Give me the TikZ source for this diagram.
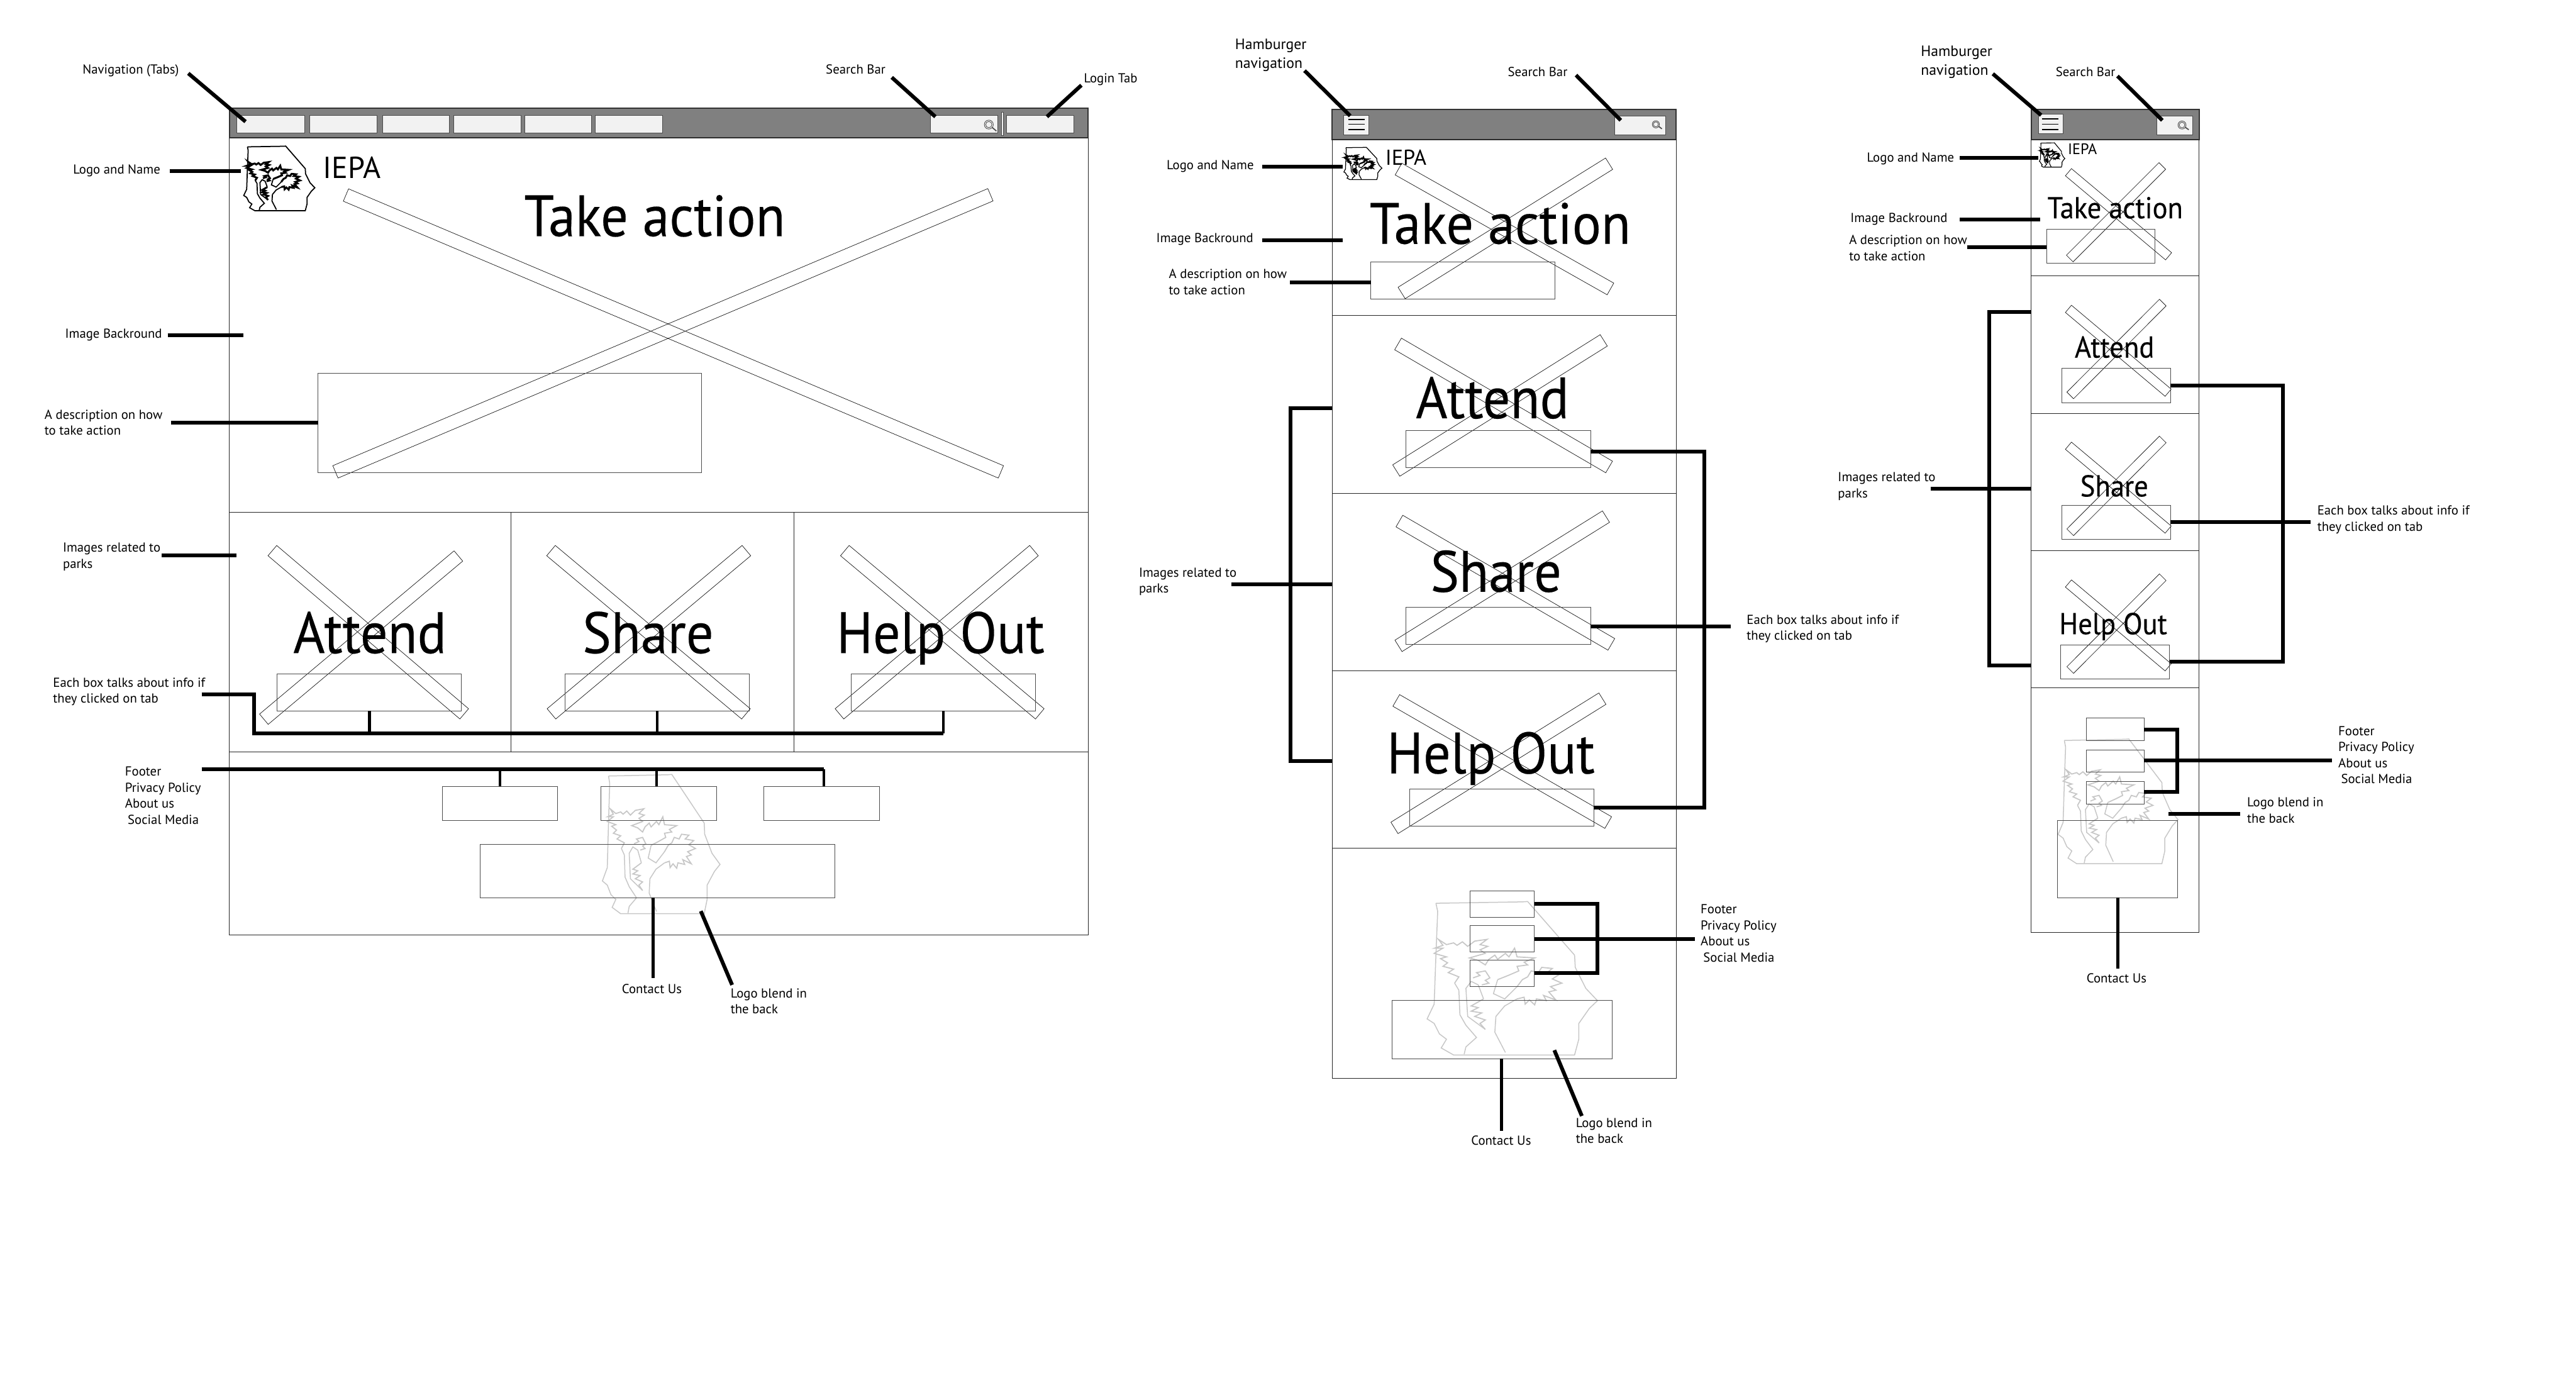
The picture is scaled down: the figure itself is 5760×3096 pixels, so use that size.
\documentclass[tikz,border=0pt]{standalone}
\usepackage{fontspec}
\setmainfont{PT Sans}
\newfontfamily\bigface[FakeStretch=0.93,FakeBold=0.25]{PT Sans}
\usetikzlibrary{calc}

\newcommand{\rectnode}[6][secbox]{\node[#1, minimum width={(#5-#3)*0.01cm}, minimum height={(#6-#4)*0.01cm}] (#2) at ({(#3+#5)/2},{(#4+#6)/2}) {};}
\newcommand{\magglass}[5]{\draw[black!70, line width=0.35pt] (#1,#2) circle (#3);
    \draw[black!70, line width=0.35pt] (#1,#2) circle ({#3*0.7});
    \draw[black!70, line width=0.7pt] ($(#1,#2)!#3*0.01cm!(#4,#5)$) -- (#4,#5);}
\newcommand{\iepalogo}[7]{\begin{scope}[shift={(#1,#2)}, xscale=#3/483, yscale=#4/443, shift={(-40,-45)}, draw=#5, line join=miter]
    \draw[line width=#6] plot coordinates {(65,52)(310,48)(325,47)(458,200)(460,235)(490,295)(523,330)(500,352)(470,395)(470,440)(458,485)(115,485)(80,465)(95,440)(75,425)(60,395)(40,382)(60,340)(65,200)(70,75)(65,52)};
    \draw[line width=#6] plot coordinates {(145,483)(150,462)(180,435)(150,400)(133,370)(130,300)(118,280)};
    \draw[line width=#6] plot coordinates {(262,478)(232,420)(235,375)(260,345)(295,325)};
    \draw[line width=#6] plot coordinates {(200,325)(185,285)(165,275)(150,295)(155,375)(205,412)};
    \draw[line width=#6] plot coordinates {(240,270)(228,310)(260,325)(295,290)};
    \draw[line width=#7] plot coordinates {(118,280)(130,262)(100,250)(115,240)(85,232)(98,222)(78,210)(95,205)(60,195)(85,180)(62,180)(85,172)(72,155)(95,170)(115,165)(125,172)(140,162)(155,175)(175,160)(210,155)(190,170)(212,175)(190,185)(205,195)(160,208)(185,215)(205,228)(215,212)(232,200)(240,212)(262,195)(272,205)(288,180)(295,205)(345,208)(315,220)(325,228)(295,232)(300,245)(270,258)(240,270)};
    \draw[line width=#7] plot coordinates {(295,290)(310,270)(325,262)(335,245)(355,250)(365,235)(395,238)(380,250)(415,255)(395,268)(422,280)(390,290)(405,300)(385,305)(405,328)(370,315)(378,330)(350,325)(345,342)(330,328)(318,340)(315,320)(295,325)};
    \draw[line width=#7] plot coordinates {(170,265)(190,258)(180,250)(205,245)(218,265)(205,272)(215,280)(195,285)};
    \draw[line width=#7] plot coordinates {(200,325)(165,345)(185,350)(165,360)(195,365)(175,375)(205,385)(190,395)(205,412)};
    \end{scope}}

\begin{document}
\begin{tikzpicture}[x=0.01cm, y=-0.01cm,
    secbox/.style={rectangle, draw=black!85, line width=0.4pt, inner sep=0pt, outer sep=0pt},
    descbox/.style={secbox, draw=black!70},
    headbar/.style={secbox, fill=black!50, draw=black!80, line width=0.8pt},
    tabbox/.style={secbox, fill=black!5, draw=black!70},
    xbar/.style={draw=black, line width=0.25pt},
    callout/.style={black, line width=2.4pt},
    stem/.style={black, line width=1.8pt},
    note/.style={font=\fontsize{8.3}{10.2}\selectfont, inner sep=0pt, anchor=base west, align=left, yshift=-0.015cm},
    hambnote/.style={note, font=\fontsize{9.5}{12}\selectfont},
    bigtext/.style={font=\bigface\fontsize{37}{40}\selectfont, inner sep=0pt, anchor=base, yshift=-0.04cm},
    midtext/.style={font=\bigface\fontsize{19.2}{22}\selectfont, inner sep=0pt, anchor=base, yshift=-0.03cm},
    brand/.style={inner sep=0pt, anchor=base west}]
    \useasboundingbox (0,0) rectangle (5760,3096);

    % placeholder crosses: both ends of the centre line and half width
    \foreach \xa/\ya/\xb/\yb/\bw in {
        773.5/436/2238/1055/0.15cm, 2214.6/435.5/750/1055/0.15cm,
        609/1231/1038/1596/0.15cm, 1025/1243/590/1608/0.15cm,
        1232/1231/1668/1596/0.15cm, 1669/1231/1233/1596/0.15cm,
        1889/1231/2325/1596/0.15cm, 2312/1231/1877/1596/0.15cm,
        3127/378/3601/646/0.15cm, 3598/366/3134/655/0.15cm,
        3126/769/3598/1044/0.15cm, 3586/761/3122/1052/0.15cm,
        3129/1165/3603/1440.6/0.15cm, 3591/1155/3127/1444/0.15cm,
        3122/1566/3596/1839/0.15cm, 3583/1562/3118/1851/0.15cm,
        4625/385/4849/573/0.105cm, 4835/371/4628/578/0.105cm,
        4625/690.5/4848/878/0.105cm, 4836/676.5/4629/884/0.105cm,
        4625/996.5/4848/1184/0.105cm, 4836/982.5/4629/1190/0.105cm,
        4625/1304.5/4848/1492/0.105cm, 4836/1290.5/4629/1498/0.105cm}{
        \draw[xbar] ($(\xa,\ya)!\bw!90:(\xb,\yb)$) -- ($(\xa,\ya)!\bw!-90:(\xb,\yb)$) -- ($(\xb,\yb)!\bw!90:(\xa,\ya)$) -- ($(\xb,\yb)!\bw!-90:(\xa,\ya)$) -- cycle;
    }

    \iepalogo{545}{326}{159}{146}{black}{0.7pt}{1.2pt}
    \iepalogo{1347}{1730}{263}{315}{black!22}{0.6pt}{0.7pt}
    \iepalogo{3005}{329}{85}{73}{black}{0.5pt}{0.9pt}
    \iepalogo{3191}{2014}{381}{347}{black!22}{0.6pt}{0.7pt}
    \iepalogo{4560}{319}{57}{55}{black}{0.45pt}{0.7pt}
    \iepalogo{4602}{1651}{268}{282}{black!22}{0.6pt}{0.7pt}

    \rectnode[headbar]{dHead}{513}{242}{2433}{308.5}
    \rectnode{dHero}{513}{308.5}{2433}{1146}
    \rectnode{dAttendSec}{513}{1146}{1143}{1681}
    \rectnode{dShareSec}{1143}{1146}{1776}{1681}
    \rectnode{dHelpSec}{1776}{1146}{2433}{1681}
    \rectnode{dFooterSec}{513}{1681}{2433}{2091}
    \foreach \i/\xa/\xb in {1/530/681,2/693/843,3/855/1005,4/1014/1165,5/1173/1323,6/1331/1481}{
        \rectnode[tabbox]{dTab\i}{\xa}{257.5}{\xb}{297}
    }
    \rectnode[tabbox]{dSearch}{2081}{257.5}{2231}{297}
    \rectnode[tabbox]{dDivider}{2239.5}{251}{2244}{303}
    \rectnode[tabbox]{dLogin}{2250}{257.5}{2400.5}{297}
    \magglass{2211}{278.5}{10}{2228}{293}
    \rectnode[descbox]{dDescBox}{711}{835}{1568}{1057}
    \rectnode[descbox]{dAttendBox}{620}{1507}{1032}{1589.5}
    \rectnode[descbox]{dShareBox}{1263}{1507}{1676}{1589.5}
    \rectnode[descbox]{dHelpBox}{1904}{1507}{2315}{1589.5}
    \rectnode[descbox]{dFoot1}{989}{1758}{1247}{1834}
    \rectnode[descbox]{dFoot2}{1344}{1758}{1602}{1834}
    \rectnode[descbox]{dFoot3}{1708}{1758}{1966}{1834}
    \rectnode[descbox]{dContactBox}{1073}{1888}{1867}{2007}

    \node[brand, font=\fontsize{19.3}{22}\selectfont] (dBrand) at (722,398) {IEPA};
    \node[bigtext] (dTakeText) at (1464,524) {Take action};
    \node[bigtext] (dAttendText) at (827,1456) {Attend};
    \node[bigtext] (dShareText) at (1449,1456) {Share};
    \node[bigtext] (dHelpText) at (2103,1456) {Help Out};

    \node[note] (dNavLabel) at (184,164) {Navigation (Tabs)};
    \node[note] (dSearchLabel) at (1846,164) {Search Bar};
    \node[note] (dLoginLabel) at (2423,183.5) {Login Tab};
    \node[note] (dLogoLabel) at (163,388) {Logo and Name};
    \node[note] (dImageLabel) at (145,754) {Image Backround};
    \node[note] (dDescLabel) at (99,971) {A description on how\\to take action};
    \node[note] (dParksLabel) at (140,1269) {Images related to\\parks};
    \node[note] (dEachLabel) at (118,1570) {Each box talks about info if\\they clicked on tab};
    \node[note] (dFooterLabel) at (279,1841) {Footer\\Privacy Policy\\About us\\\hspace*{0.06cm}Social Media};
    \node[note] (dContactLabel) at (1390,2220) {Contact Us};
    \node[note] (dBlendLabel) at (1633,2265) {Logo blend in\\the back};

    \coordinate (dNavA) at (421,164);
    \coordinate (dNavB) at (549,272);
    \coordinate (dSearchA) at (1994,173);
    \coordinate (dSearchB) at (2091.5,261);
    \coordinate (dLoginA) at (2418,190.5);
    \coordinate (dLoginB) at (2341,261);
    \coordinate (dLogoA) at (379,382.5);
    \coordinate (dLogoB) at (539,382.5);
    \coordinate (dImageA) at (375,749);
    \coordinate (dImageB) at (544,749);
    \coordinate (dDescA) at (382,945);
    \coordinate (dParksA) at (362,1242);
    \coordinate (dParksB) at (529,1242);
    \coordinate (dEachA) at (451,1552);
    \coordinate (dEachC) at (568,1639);
    \coordinate (dFootA) at (451,1720);
    \coordinate (dFootB) at (1118,1720);
    \coordinate (dFootC) at (1468,1720);
    \coordinate (dFootD) at (1842,1720);
    \coordinate (dContactA) at (1460,2187);
    \coordinate (dBlendA) at (1567,2037);
    \coordinate (dBlendB) at (1637,2202);
    \draw[callout] (dNavA) -- (dNavB);
    \draw[callout] (dSearchA) -- (dSearchB);
    \draw[callout] (dLoginA) -- (dLoginB);
    \draw[callout] (dLogoA) -- (dLogoB);
    \draw[callout] (dImageA) -- (dImageB);
    \draw[callout] (dDescA) -- (dDescA -| dDescBox.west);
    \draw[callout] (dParksA) -- (dParksB);
    \draw[callout] (dEachA) -| (dEachC) -- (dEachC -| dHelpBox.south);
    \foreach \n in {Attend,Share,Help}{
        \draw[stem] (d\n Box.south) -- (d\n Box.south |- dEachC);
    }
    \draw[callout] (dFootA) -- (dFootD);
    \foreach \n/\m in {1/B,2/C,3/D}{
        \draw[stem] (dFoot\m) -- (dFoot\m |- dFoot\n.north);
    }
    \draw[callout, line width=2pt] (dContactA |- dContactBox.south) -- (dContactA);
    \draw[callout] (dBlendA) -- (dBlendB);

    \rectnode[headbar]{tHead}{2979}{244.5}{3748}{311.5}
    \rectnode{tHero}{2979}{311.5}{3748}{705}
    \rectnode{tAttendSec}{2979}{705}{3748}{1103}
    \rectnode{tShareSec}{2979}{1103}{3748}{1500}
    \rectnode{tHelpSec}{2979}{1500}{3748}{1896}
    \rectnode{tFooterSec}{2979}{1896}{3748}{2411}
    \rectnode[tabbox]{tBurger}{3005}{258.5}{3060}{302}
    \foreach \y in {267,278,290}{
        \draw[black, line width=0.6pt] (3015,\y) -- (3052,\y);
    }
    \rectnode[tabbox]{tSearch}{3611}{260}{3725}{301}
    \magglass{3702.5}{278}{8}{3716}{288}
    \rectnode[descbox]{tDescBox}{3065}{586}{3477}{669}
    \rectnode[descbox]{tAttendBox}{3144}{963}{3557}{1046}
    \rectnode[descbox]{tShareBox}{3144}{1358}{3557}{1440.6}
    \rectnode[descbox]{tHelpBox}{3152}{1764}{3564}{1847.5}
    \rectnode[descbox]{tFoot1}{3287}{1992}{3431}{2051}
    \rectnode[descbox]{tFoot2}{3287}{2069}{3431}{2128}
    \rectnode[descbox]{tFoot3}{3287}{2147}{3431}{2206}
    \rectnode[descbox]{tContactBox}{3112}{2236}{3605}{2367}

    \node[brand, font=\fontsize{13.7}{16}\selectfont] (tBrand) at (3097,369) {IEPA};
    \node[bigtext] (tTakeText) at (3354.5,541) {Take action};
    \node[bigtext] (tAttendText) at (3337,931) {Attend};
    \node[bigtext] (tShareText) at (3345,1319) {Share};
    \node[bigtext] (tHelpText) at (3333.5,1725) {Help Out};

    \node[hambnote] (tBurgerLabel) at (2761,151) {Hamburger\\navigation};
    \node[note] (tSearchLabel) at (3371,170) {Search Bar};
    \node[note] (tLogoLabel) at (2608,378) {Logo and Name};
    \node[note] (tImageLabel) at (2585,541) {Image Backround};
    \node[note] (tDescLabel) at (2613,657) {A description on how\\to take action};
    \node[note] (tParksLabel) at (2546,1324.5) {Images related to\\parks};
    \node[note] (tEachLabel) at (3905,1430) {Each box talks about info if\\they clicked on tab};
    \node[note] (tFooterLabel) at (3802,2149) {Footer\\Privacy Policy\\About us\\\hspace*{0.06cm}Social Media};
    \node[note] (tContactLabel) at (3289,2558) {Contact Us};
    \node[note] (tBlendLabel) at (3523,2555) {Logo blend in\\the back};

    \coordinate (tBurgerA) at (2917,158);
    \coordinate (tBurgerB) at (3019,259);
    \coordinate (tSearchA) at (3524,168);
    \coordinate (tSearchB) at (3624,269);
    \coordinate (tLogoA) at (2823,373);
    \coordinate (tLogoB) at (3003,373);
    \coordinate (tImageA) at (2823,537);
    \coordinate (tImageB) at (3003,537);
    \coordinate (tDescA) at (2884,632);
    \coordinate (tParksTop) at (2885,912);
    \coordinate (tParksBot) at (2885,1701.5);
    \coordinate (tParksA) at (2754,1307);
    \coordinate (tEachTop) at (3811,1009.5);
    \coordinate (tEachBot) at (3811,1805);
    \coordinate (tEachA) at (3870,1400);
    \coordinate (tFootTop) at (3572,2021);
    \coordinate (tFootBot) at (3572,2176);
    \coordinate (tFootA) at (3790,2099);
    \coordinate (tContactA) at (3358,2528);
    \coordinate (tBlendA) at (3475.5,2348);
    \coordinate (tBlendB) at (3537,2495);
    \draw[callout] (tBurgerA) -- (tBurgerB);
    \draw[callout] (tSearchA) -- (tSearchB);
    \draw[callout] (tLogoA) -- (tLogoB);
    \draw[callout] (tImageA) -- (tImageB);
    \draw[callout] (tDescA) -- (tDescA -| tDescBox.west);
    \draw[callout] (tParksTop -| tAttendSec.west) -- (tParksTop) -- (tParksBot) -- (tParksBot -| tHelpSec.west);
    \draw[callout] (tParksA) -- (tParksA -| tShareSec.west);
    \draw[callout] (tEachTop -| tAttendBox.east) -- (tEachTop) -- (tEachBot) -- (tEachBot -| tHelpBox.east);
    \draw[callout] (tEachA -| tShareBox.east) -- (tEachA);
    \draw[callout] (tFootTop -| tFoot1.east) -- (tFootTop) -- (tFootBot) -- (tFootBot -| tFoot3.east);
    \draw[callout] (tFootA -| tFoot2.east) -- (tFootA);
    \draw[callout, line width=2pt] (tContactA |- tContactBox.south) -- (tContactA);
    \draw[callout] (tBlendA) -- (tBlendB);

    \rectnode[headbar]{pHead}{4542}{245}{4917}{312.5}
    \rectnode{pHero}{4542}{312.5}{4917}{617}
    \rectnode{pAttendSec}{4542}{617}{4917}{924}
    \rectnode{pShareSec}{4542}{924}{4917}{1231}
    \rectnode{pHelpSec}{4542}{1231}{4917}{1537.5}
    \rectnode{pFooterSec}{4542}{1537.5}{4917}{2085}
    \rectnode[tabbox]{pBurger}{4558.5}{255}{4613}{299}
    \foreach \y in {266,278,290}{
        \draw[black, line width=0.6pt] (4565.5,\y) -- (4603,\y);
    }
    \rectnode[tabbox]{pSearch}{4822.6}{260}{4903}{301}
    \magglass{4879}{279.5}{9}{4894}{290}
    \rectnode[descbox]{pDescBox}{4576}{513}{4818}{589}
    \rectnode[descbox]{pAttendBox}{4610.5}{824}{4853}{900}
    \rectnode[descbox]{pShareBox}{4610.5}{1130.6}{4853}{1206.5}
    \rectnode[descbox]{pHelpBox}{4607.5}{1442}{4851}{1518}
    \rectnode[descbox]{pFoot1}{4664.5}{1604.6}{4794}{1655.6}
    \rectnode[descbox]{pFoot2}{4664.5}{1676.5}{4794}{1726.5}
    \rectnode[descbox]{pFoot3}{4664.5}{1747.5}{4794}{1798.5}
    \rectnode[descbox]{pContactBox}{4601}{1834}{4869}{2007}

    \node[brand, font=\fontsize{9.7}{12}\selectfont] (pBrand) at (4623,345.5) {IEPA};
    \node[midtext] (pTakeText) at (4729.5,485) {Take action};
    \node[midtext] (pAttendText) at (4728,796.5) {Attend};
    \node[midtext] (pShareText) at (4727.5,1107) {Share};
    \node[midtext] (pHelpText) at (4725,1415) {Help Out};

    \node[hambnote] (pBurgerLabel) at (4294.5,166) {Hamburger\\navigation};
    \node[note] (pSearchLabel) at (4596,170) {Search Bar};
    \node[note] (pLogoLabel) at (4174,361) {Logo and Name};
    \node[note] (pImageLabel) at (4137,495) {Image Backround};
    \node[note] (pDescLabel) at (4134,581) {A description on how\\to take action};
    \node[note] (pParksLabel) at (4109,1111.5) {Images related to\\parks};
    \node[note] (pEachLabel) at (5181,1186) {Each box talks about info if\\they clicked on tab};
    \node[note] (pFooterLabel) at (5228,1750) {Footer\\Privacy Policy\\About us\\\hspace*{0.06cm}Social Media};
    \node[note] (pContactLabel) at (4665,2196) {Contact Us};
    \node[note] (pBlendLabel) at (5024,1838) {Logo blend in\\the back};

    \coordinate (pBurgerA) at (4456,165);
    \coordinate (pBurgerB) at (4564,257.6);
    \coordinate (pSearchA) at (4734.6,170);
    \coordinate (pSearchB) at (4835,269);
    \coordinate (pLogoA) at (4382,353);
    \coordinate (pLogoB) at (4558,353);
    \coordinate (pImageA) at (4382,491);
    \coordinate (pImageB) at (4562,491);
    \coordinate (pDescA) at (4398,552);
    \coordinate (pParksTop) at (4448,698);
    \coordinate (pParksBot) at (4448,1488);
    \coordinate (pParksA) at (4317,1093);
    \coordinate (pEachTop) at (5105,861.5);
    \coordinate (pEachBot) at (5105,1479.5);
    \coordinate (pEachA) at (5167,1167.6);
    \coordinate (pFootTop) at (4868.6,1631);
    \coordinate (pFootBot) at (4868.6,1771);
    \coordinate (pFootA) at (5214,1699.5);
    \coordinate (pContactA) at (4735,2166);
    \coordinate (pBlendA) at (4849,1820);
    \coordinate (pBlendB) at (5009,1820);
    \draw[callout] (pBurgerA) -- (pBurgerB);
    \draw[callout] (pSearchA) -- (pSearchB);
    \draw[callout] (pLogoA) -- (pLogoB);
    \draw[callout] (pImageA) -- (pImageB);
    \draw[callout] (pDescA) -- (pDescA -| pDescBox.west);
    \draw[callout] (pParksTop -| pAttendSec.west) -- (pParksTop) -- (pParksBot) -- (pParksBot -| pHelpSec.west);
    \draw[callout] (pParksA) -- (pParksA -| pShareSec.west);
    \draw[callout] (pEachTop -| pAttendBox.east) -- (pEachTop) -- (pEachBot) -- (pEachBot -| pHelpBox.east);
    \draw[callout] (pEachA -| pShareBox.east) -- (pEachA);
    \draw[callout] (pFootTop -| pFoot1.east) -- (pFootTop) -- (pFootBot) -- (pFootBot -| pFoot3.east);
    \draw[callout] (pFootA -| pFoot2.east) -- (pFootA);
    \draw[callout, line width=2pt] (pContactA |- pContactBox.south) -- (pContactA);
    \draw[callout] (pBlendA) -- (pBlendB);
\end{tikzpicture}
\end{document}
